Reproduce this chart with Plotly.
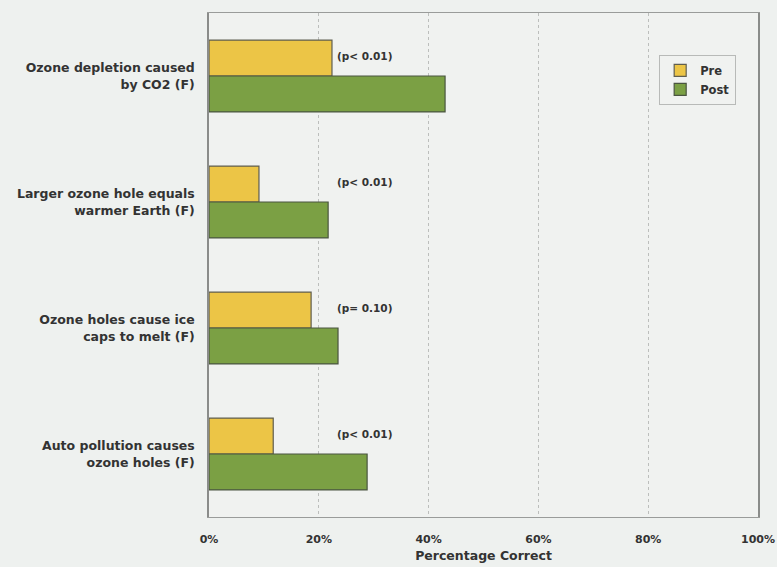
import plotly.graph_objects as go

categories = [
    "Ozone depletion caused<br>by CO2 (F)",
    "Larger ozone hole equals<br>warmer Earth (F)",
    "Ozone holes cause ice<br>caps to melt (F)",
    "Auto pollution causes<br>ozone holes (F)",
]
pre_values = [22.4, 9.1, 18.6, 11.7]
post_values = [43.0, 21.7, 23.5, 28.8]
p_labels = ["(p< 0.01)", "(p< 0.01)", "(p= 0.10)", "(p< 0.01)"]
p_label_x = 23.0
x_ticks = [0, 20, 40, 60, 80, 100]

BG = "#eef1ef"
TXT = "#333333"
FONT = "DejaVu Sans, Arial, sans-serif"

fig = go.Figure()
fig.add_trace(go.Bar(
    y=categories, x=pre_values, name="Pre", orientation="h",
    marker=dict(color="#ecc546", line=dict(color="#5f5e50", width=1.2)),
))
fig.add_trace(go.Bar(
    y=categories, x=post_values, name="Post", orientation="h",
    marker=dict(color="#7ba044", line=dict(color="#4a5540", width=1.2)),
))

for cat, lab in zip(categories, p_labels):
    fig.add_annotation(
        x=p_label_x, y=cat, text="<b>" + lab + "</b>", showarrow=False,
        xanchor="left", yanchor="middle", yshift=20,
        font=dict(family=FONT, size=10.5, color=TXT),
    )

fig.update_layout(
    width=777, height=567,
    margin=dict(l=209, r=19, t=13, b=50, autoexpand=False),
    paper_bgcolor=BG, plot_bgcolor="#f0f2f0",
    barmode="group", bargap=0.43, bargroupgap=0,
    font=dict(family=FONT, size=12, color=TXT),
    showlegend=True,
    legend=dict(
        x=0.82, y=0.917, xanchor="left", yanchor="top",
        bgcolor="#f0f2f0", bordercolor="#b8bab8", borderwidth=1,
        font=dict(family=FONT, size=11.5, color=TXT, weight="bold"),
        itemwidth=30, tracegroupgap=0,
    ),
    xaxis=dict(
        range=[0, 100], tickvals=x_ticks,
        ticktext=["<b>%d%%</b>" % v for v in x_ticks],
        tickfont=dict(size=11, color=TXT),
        showgrid=True, gridcolor="#bcbebc", griddash="dot", gridwidth=1,
        showline=True, linecolor="#9a9c9a", linewidth=1, mirror=True,
        zeroline=False, ticks="", ticklabelstandoff=12, automargin=False,
        title=dict(text="<b>Percentage Correct</b>", font=dict(size=12.5, color=TXT), standoff=6),
    ),
    yaxis=dict(
        autorange="reversed",
        tickfont=dict(size=12.5, color=TXT, weight="bold"),
        showline=True, linecolor="#8a8c8a", linewidth=1.5, mirror=True,
        showgrid=False, ticks="", ticklabelstandoff=10, automargin=False,
    ),
)

fig.write_html("out.html")
